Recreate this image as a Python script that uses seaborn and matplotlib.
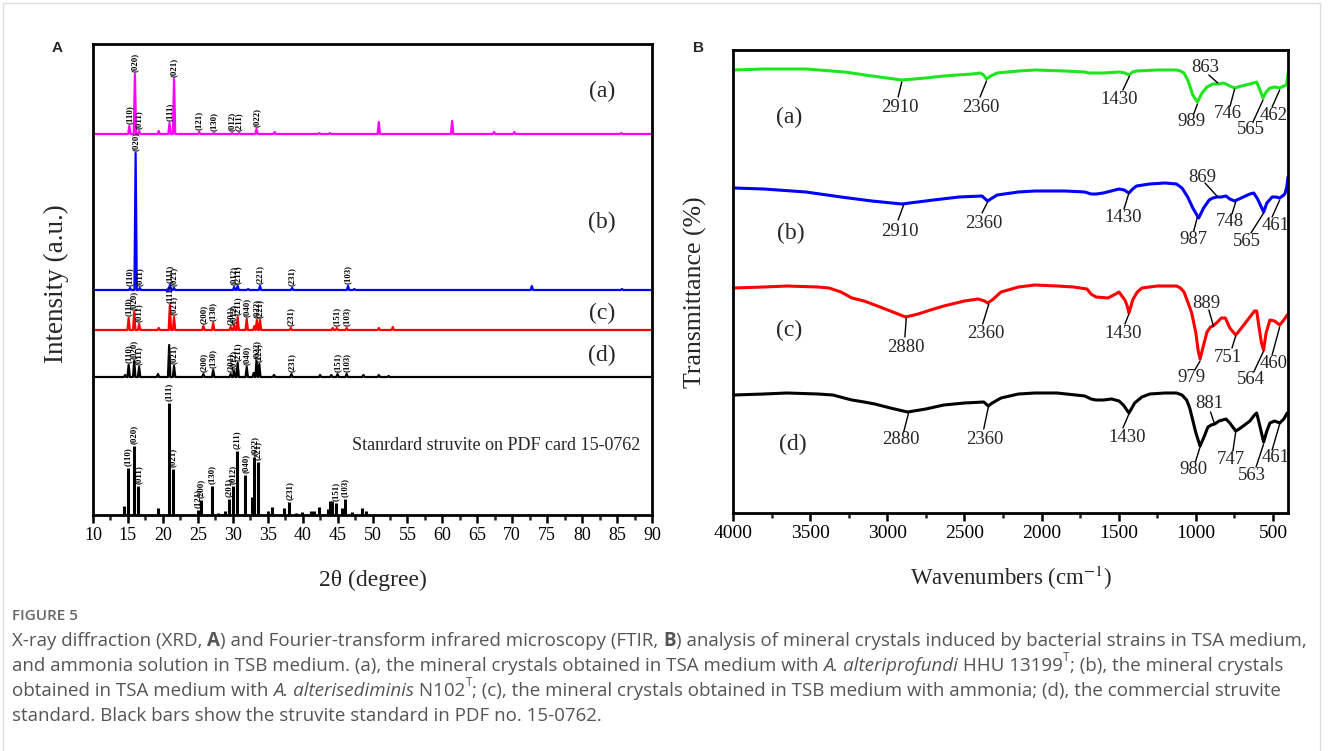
import numpy as np
import pandas as pd
import matplotlib
matplotlib.use("Agg")
import matplotlib.pyplot as plt
import seaborn as sns
from matplotlib.ticker import MultipleLocator
from matplotlib.patches import Rectangle

# ------------------------------------------------------------------
# XRD data (2-theta in degrees, peak height in arbitrary units)
# ------------------------------------------------------------------
xrd_a_pos = [15.2, 16.0, 16.6, 19.4, 20.95, 21.6, 25.2, 27.3, 29.9, 30.9, 33.4, 36.0, 42.4, 43.9, 50.9, 61.4, 67.4, 70.3, 85.6]
xrd_a_hgt = [8, 60, 3, 3, 11, 55, 2, 1, 1, 1, 5, 2, 1, 1, 12, 13, 2, 2, 1]
xrd_a_hkl = ["(110)", "(020)", "(011)", "", "(111)", "(021)", "(121)", "(130)", "(012)", "(211)", "(022)", "", "", "", "", "", "", "", ""]

xrd_b_pos = [15.3, 16.1, 16.7, 21.0, 21.6, 30.2, 30.7, 32.2, 33.9, 38.5, 46.5, 47.4, 72.8, 85.7]
xrd_b_hgt = [2, 137, 2, 5, 2, 3, 4, 1, 4, 2, 4, 1, 4, 1]
xrd_b_hkl = ["(110)", "(020)", "(011)", "(111)", "(021)", "(012)", "(211)", "", "(221)", "(231)", "(103)", "", "", ""]

xrd_c_pos = [15.1, 15.9, 16.6, 19.4, 21.0, 21.6, 25.8, 27.2, 29.7, 30.2, 30.7, 32.0, 33.1, 33.45, 33.9, 38.3, 44.3, 44.9, 46.3, 50.9, 52.9]
xrd_c_hgt = [12, 18, 6, 2, 25, 13, 4, 7, 3, 5, 13, 11, 4, 10, 10, 2, 2, 2, 2, 2, 3]
xrd_c_hkl = ["(110)", "(020)", "(011)", "", "(111)", "(021)", "(200)", "(130)", "(201)", "(012)", "(211)", "(040)", "", "(022)", "(221)", "(231)", "", "(151)", "(103)", "", ""]

xrd_d_pos = [14.6, 15.1, 15.9, 16.6, 19.3, 20.9, 21.6, 25.8, 27.2, 29.7, 30.2, 30.7, 32.0, 33.0, 33.4, 33.8, 35.9, 38.4, 42.5, 44.1, 45.0, 46.3, 48.7, 50.9, 52.3]
xrd_d_hgt = [2, 12, 16, 10, 3, 32, 11, 3, 7, 3, 6, 14, 10, 4, 16, 13, 2, 3, 2, 2, 3, 3, 2, 2, 1]
xrd_d_hkl = ["", "(110)", "(020)", "(011)", "", "", "(021)", "(200)", "(130)", "(201)", "(012)", "(211)", "(040)", "", "(022)", "(221)", "", "(231)", "", "", "(151)", "(103)", "", "", ""]

# PDF card 15-0762 standard struvite bars
std_pos = [14.4, 15.05, 15.8, 16.5, 19.3, 20.86, 21.4, 25.0, 25.5, 27.05, 27.9, 28.95, 29.4, 30.0, 30.6, 31.8, 32.8, 33.1, 33.6,
           35.1, 35.6, 37.4, 38.1, 39.0, 39.9, 41.2, 41.6, 42.3, 43.6, 43.95, 44.2, 44.8, 45.6, 46.1, 47.0, 48.5, 49.1]
std_hgt = [9, 47, 69, 29, 7, 112, 46, 5, 15, 29, 2, 4, 16, 29, 64, 40, 18, 58, 53,
           4, 8, 7, 13, 2, 3, 4, 4, 8, 6, 14, 14, 12, 7, 16, 3, 7, 4]
std_hkl = ["", "(110)", "(020)", "(011)", "", "(111)", "(021)", "(121)", "(200)", "(130)", "", "", "(201)", "(012)", "(211)", "(040)", "", "(022)", "(221)",
           "", "", "", "(231)", "", "", "", "", "", "", "", "", "(151)", "", "(103)", "", "", ""]

xrd_ticks = list(range(10, 95, 5))

# ------------------------------------------------------------------
# FTIR data (wavenumber cm-1, stacked transmittance, arbitrary units)
# ------------------------------------------------------------------
ftir_a_wn = [3995, 3800, 3527, 3277, 3100, 2906, 2750, 2634, 2450, 2399, 2375, 2357, 2330, 2288, 2150, 2043, 1850, 1720,
             1694, 1600, 1498, 1460, 1434, 1410, 1385, 1250, 1126, 1100, 1077, 1050, 1020, 990, 960, 928, 890, 854,
             820, 805, 780, 749, 705, 650, 606, 590, 565, 545, 520, 490, 457, 430, 413, 403]
ftir_a_t = [443, 444, 444, 441, 437, 433, 435, 437, 439, 440, 438, 434, 437, 440, 442, 443, 442, 441,
            440, 440, 441, 440, 438, 441, 442, 443, 443, 442, 440, 432, 418, 411, 420, 426, 429, 429,
            430, 429, 427, 425, 427, 429, 431, 425, 415, 421, 425, 426, 425, 427, 428, 439]

ftir_b_wn = [3995, 3800, 3527, 3300, 3100, 2906, 2700, 2535, 2386, 2350, 2320, 2288, 2150, 2043, 1850, 1719, 1680,
             1647, 1600, 1498, 1465, 1434, 1410, 1385, 1300, 1200, 1126, 1090, 1053, 1020, 982, 950, 914, 890,
             864, 835, 805, 780, 749, 720, 693, 650, 625, 600, 561, 540, 506, 480, 457, 430, 421, 410, 403]
ftir_b_t = [325, 324, 321, 316, 312, 309, 313, 316, 317, 312, 315, 318, 321, 322, 322, 321, 319,
            319, 320, 324, 323, 320, 324, 327, 329, 330, 329, 325, 316, 305, 295, 305, 313, 315,
            316, 316, 317, 314, 312, 314, 316, 319, 320, 314, 301, 310, 316, 316, 315, 318, 320, 327, 336]

ftir_c_wn = [3995, 3800, 3650, 3450, 3378, 3300, 3229, 3150, 3081, 2980, 2881, 2800, 2720, 2634, 2500, 2412, 2370,
             2350, 2320, 2263, 2150, 2043, 1900, 1793, 1706, 1680, 1647, 1570, 1520, 1498, 1475, 1460, 1445, 1434,
             1420, 1410, 1380, 1349, 1250, 1126, 1100, 1077, 1050, 1027, 1000, 985, 973, 955, 928, 905, 889, 860,
             835, 809, 780, 742, 720, 705, 650, 620, 606, 590, 575, 561, 545, 520, 490, 457, 430, 408]
ftir_c_t = [225, 226, 227, 226, 225, 221, 215, 212, 208, 202, 196, 199, 203, 207, 212, 214, 212,
            210, 213, 221, 226, 228, 227, 226, 224, 219, 216, 215, 219, 221, 216, 213, 207, 200,
            207, 213, 221, 225, 227, 227, 225, 221, 210, 200, 180, 162, 154, 165, 181, 186, 187, 191,
            195, 195, 185, 178, 182, 185, 196, 202, 202, 185, 170, 163, 180, 193, 192, 188, 193, 198]

ftir_d_wn = [3995, 3800, 3650, 3450, 3352, 3280, 3229, 3150, 3081, 2980, 2869, 2750, 2634, 2500, 2375, 2345, 2320,
             2263, 2150, 2043, 1900, 1719, 1680, 1647, 1600, 1546, 1498, 1470, 1434, 1415, 1397, 1350, 1299, 1200,
             1126, 1090, 1060, 1040, 1027, 1000, 973, 950, 922, 900, 878, 850, 805, 780, 742, 720, 693, 650, 620,
             606, 590, 561, 540, 520, 490, 457, 430, 408]
ftir_d_t = [118, 119, 120, 119, 118, 115, 113, 111, 109, 105, 101, 104, 108, 110, 111, 107, 110,
            115, 119, 120, 120, 117, 114, 113, 113, 114, 112, 108, 100, 105, 110, 116, 119, 120,
            120, 118, 113, 105, 97, 80, 67, 75, 86, 88, 89, 92, 94, 90, 82, 84, 87, 92, 98,
            100, 90, 71, 82, 90, 92, 90, 94, 100]

ftir_ticks = [4000, 3500, 3000, 2500, 2000, 1500, 1000, 500]

# annotation labels: (text, text_x, text_y, line_x1, line_y1, line_x2, line_y2)
ann_a = [("2910", 2918, 405, 2906, 431, 2930, 416), ("2360", 2393, 405, 2357, 432, 2399, 416),
         ("1430", 1498, 413, 1430, 437, 1473, 423), ("989", 1027, 391, 990, 409, 1014, 399),
         ("863", 941, 445, 916, 438, 858, 430), ("746", 791, 400, 749, 424, 778, 407),
         ("565", 643, 384, 565, 413, 630, 391), ("462", 494, 398, 457, 423, 506, 406)]
ann_b = [("2910", 2918, 281, 2894, 308, 2930, 293), ("2360", 2374, 289, 2350, 311, 2386, 300),
         ("1430", 1473, 296, 1434, 320, 1466, 304), ("987", 1014, 273, 990, 296, 1014, 282),
         ("869", 957, 336, 941, 330, 864, 317), ("748", 779, 291, 742, 311, 766, 299),
         ("565", 669, 271, 561, 300, 643, 280), ("461", 481, 288, 457, 313, 506, 296)]
ann_c = [("2880", 2881, 166, 2877, 195, 2886, 176), ("2360", 2362, 180, 2342, 209, 2382, 189),
         ("1430", 1473, 180, 1434, 199, 1460, 189), ("889", 935, 210, 916, 203, 886, 187),
         ("979", 1027, 135, 973, 152, 1007, 143), ("751", 791, 156, 742, 177, 766, 165),
         ("564", 643, 133, 561, 162, 625, 141), ("460", 494, 150, 457, 186, 506, 158)]
ann_d = [("2880", 2911, 73, 2862, 100, 2894, 81), ("2360", 2367, 74, 2345, 106, 2375, 84),
         ("1430", 1447, 76, 1434, 99, 1473, 85), ("881", 916, 109, 905, 101, 881, 90),
         ("980", 1014, 43, 973, 66, 1003, 51), ("747", 774, 54, 742, 81, 760, 62),
         ("563", 636, 38, 561, 69, 610, 46), ("461", 481, 56, 457, 89, 506, 63)]

# ------------------------------------------------------------------
# style
# ------------------------------------------------------------------
sns.set_style("ticks")
SERIF = ["Liberation Serif", "DejaVu Serif"]
plt.rcParams["font.family"] = SERIF
plt.rcParams["mathtext.fontset"] = "stix"
CAP_FONT = ["Open Sans", "DejaVu Sans"]

W, H = 1328, 751
fig = plt.figure(figsize=(W / 100, H / 100), dpi=100)
fig.patch.set_facecolor("white")


def fx(px):
    return px / W


def fy(py):
    return 1 - py / H


axA = fig.add_axes([fx(93), fy(515), fx(652) - fx(93), fy(44) - fy(515)])
axB = fig.add_axes([fx(733), fy(513), fx(1288) - fx(733), fy(50) - fy(513)])

for ax, lsize in ((axA, 13), (axB, 14)):
    ax.set_facecolor("white")
    for s in ax.spines.values():
        s.set_linewidth(2.0)
        s.set_color("black")
    ax.tick_params(axis="x", which="major", direction="out", length=6, width=1.8,
                   labelsize=lsize, pad=3, colors="black")
    ax.tick_params(axis="x", which="minor", direction="out", length=3.5, width=1.8)
    ax.tick_params(axis="y", left=False, labelleft=False)


# ---------------- Panel A: XRD ----------------
def peak_trace(pos, hgt, lo=10, hi=90, w=0.17):
    xs, ys = [lo], [0.0]
    for p, h in sorted(zip(pos, hgt)):
        xs += [p - w, p, p + w]
        ys += [0.0, h, 0.0]
    xs.append(hi)
    ys.append(0.0)
    return np.array(xs), np.array(ys)


xrd_sets = [
    (xrd_a_pos, xrd_a_hgt, xrd_a_hkl, 381, "#ff00ff"),
    (xrd_b_pos, xrd_b_hgt, xrd_b_hkl, 225, "#0000ff"),
    (xrd_c_pos, xrd_c_hgt, xrd_c_hkl, 185, "#ff0000"),
    (xrd_d_pos, xrd_d_hgt, xrd_d_hkl, 138, "#000000"),
]
for pos, hgt, hkl, base, col in xrd_sets:
    xs, ys = peak_trace(pos, hgt)
    df = pd.DataFrame({"x": xs, "y": ys + base})
    sns.lineplot(data=df, x="x", y="y", ax=axA, color=col, lw=1.6, sort=False,
                 estimator=None)
    for p, h, lab in zip(pos, hgt, hkl):
        if lab:
            axA.text(p, base + h + 2, lab, rotation=90, ha="center", va="bottom",
                     fontsize=6.3, fontweight="bold", family=SERIF, color="black")

axA.vlines(std_pos, 0, std_hgt, color="black", lw=2.2)
for p, h, lab in zip(std_pos, std_hgt, std_hkl):
    if lab:
        axA.text(p, h + 2, lab, rotation=90, ha="center", va="bottom",
                 fontsize=6.3, fontweight="bold", family=SERIF, color="black")

axA.set_xlim(10, 90)
axA.set_ylim(0, 471)
axA.set_xticks(xrd_ticks)
axA.set_xticklabels([str(t) for t in xrd_ticks])
axA.xaxis.set_minor_locator(MultipleLocator(2.5))
axA.set_xlabel("")
axA.set_ylabel("")

for lab, y in [("(a)", 424), ("(b)", 293), ("(c)", 202), ("(d)", 160)]:
    axA.text(82.8, y, lab, fontsize=17, ha="center", va="center", family=SERIF)
axA.text(67.7, 70, "Stanrdard struvite on PDF card 15-0762", fontsize=13,
         ha="center", va="center", family=SERIF)

# ---------------- Panel B: FTIR ----------------
ftir_sets = [
    (ftir_a_wn, ftir_a_t, "#1ee61e", ann_a),
    (ftir_b_wn, ftir_b_t, "#0000ff", ann_b),
    (ftir_c_wn, ftir_c_t, "#ff0000", ann_c),
    (ftir_d_wn, ftir_d_t, "#000000", ann_d),
]
for wn, t, col, ann in ftir_sets:
    df = pd.DataFrame({"wn": wn, "t": t})
    sns.lineplot(data=df, x="wn", y="t", ax=axB, color=col, lw=2.2, sort=False,
                 estimator=None)
    for txt, tx, ty, x1, y1, x2, y2 in ann:
        axB.plot([x1, x2], [y1, y2], color="black", lw=1.0)
        axB.text(tx, ty, txt, fontsize=13.5, ha="center", va="center", family=SERIF)

axB.set_xlim(4000, 403)
axB.set_ylim(0, 463)
axB.set_xticks(ftir_ticks)
axB.set_xticklabels([str(t) for t in ftir_ticks])
axB.xaxis.set_minor_locator(MultipleLocator(250))
axB.set_xlabel("")
axB.set_ylabel("")

for lab, x, y in [("(a)", 3637, 396), ("(b)", 3624, 280), ("(c)", 3637, 183), ("(d)", 3611, 69)]:
    axB.text(x, y, lab, fontsize=17, ha="center", va="center", family=SERIF)

# axis titles
fig.text(fx(56), fy(284), "Intensity (a.u.)", rotation=90, fontsize=19.5,
         ha="center", va="center", family=SERIF)
fig.text(fx(373), fy(580), "2θ (degree)", fontsize=17, ha="center", va="center", family=SERIF)
fig.text(fx(695), fy(292), "Transmittance (%)", rotation=90, fontsize=18.5,
         ha="center", va="center", family=SERIF)
fig.text(fx(1011), fy(578), "Wavenumbers (cm$^{\\mathrm{-1}}$)", fontsize=16.5,
         ha="center", va="center", family=SERIF)

# panel letters
fig.text(fx(57), fy(48), "A", fontsize=11, fontweight="bold", ha="center", va="center",
         family=["Liberation Sans", "DejaVu Sans"])
fig.text(fx(699), fy(48), "B", fontsize=11, fontweight="bold", ha="center", va="center",
         family=["Liberation Sans", "DejaVu Sans"])

# ---------------- caption ----------------
renderer = fig.canvas.get_renderer()
CAP_SIZE = 13.5
CAP_COL = "#555555"


def rich_line(x_px, y_px, pieces, size=CAP_SIZE, color=CAP_COL):
    x = x_px
    for txt, style in pieces:
        kw = dict(fontsize=size, color=color, family=CAP_FONT, va="baseline", ha="left")
        ypos = y_px
        if style == "b":
            kw["fontweight"] = "bold"
        elif style == "i":
            kw["fontstyle"] = "italic"
        elif style == "sup":
            kw["fontsize"] = size * 0.62
            ypos = y_px - size * 0.55 * 100 / 72
        t = fig.text(fx(x), fy(ypos), txt, **kw)
        bb = t.get_window_extent(renderer)
        x += bb.width


fig.text(fx(12), fy(620), "FIGURE 5", fontsize=11, color="#666666", family=CAP_FONT,
         fontweight="semibold", va="baseline", ha="left")
rich_line(12, 646, [("X-ray diffraction (XRD, ", "n"), ("A", "b"),
                    (") and Fourier-transform infrared microscopy (FTIR, ", "n"), ("B", "b"),
                    (") analysis of mineral crystals induced by bacterial strains in TSA medium,", "n")])
rich_line(12, 671, [("and ammonia solution in TSB medium. (a), the mineral crystals obtained in TSA medium with ", "n"),
                    ("A. alteriprofundi", "i"), (" HHU 13199", "n"), ("T", "sup"),
                    ("; (b), the mineral crystals", "n")])
rich_line(12, 696, [("obtained in TSA medium with ", "n"), ("A. alterisediminis", "i"), (" N102", "n"),
                    ("T", "sup"),
                    ("; (c), the mineral crystals obtained in TSB medium with ammonia; (d), the commercial struvite", "n")])
rich_line(12, 721, [("standard. Black bars show the struvite standard in PDF no. 15-0762.", "n")])

# light frame around the figure
fig.patches.append(Rectangle((fx(3), fy(760)), fx(1320) - fx(3), fy(3) - fy(760),
                             transform=fig.transFigure, fill=False, edgecolor="#dddddd",
                             lw=1.0, zorder=0))

fig.savefig("out.png", dpi=100, facecolor="white")
